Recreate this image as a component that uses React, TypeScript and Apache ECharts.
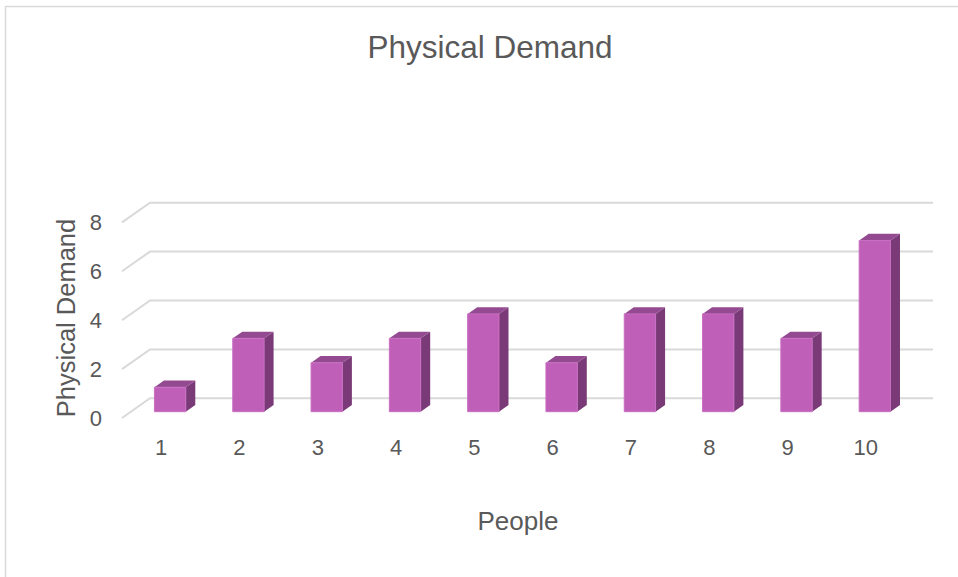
import React, { useEffect, useRef } from "react";
import * as echarts from "echarts";

const categories = ["1", "2", "3", "4", "5", "6", "7", "8", "9", "10"];
const demand = [1, 3, 2, 3, 4, 2, 4, 4, 3, 7];
const yTicks = [0, 2, 4, 6, 8];

const FONT = "'Liberation Sans', Arial, sans-serif";
const TEXT = "#595959";
const WALL_DX = 28;
const WALL_DY = -19.7;
const FRONT_T = 0.32;
const BACK_T = 0.66;

export default function App() {
  const ref = useRef<HTMLDivElement>(null);
  useEffect(() => {
    document.body.style.margin = "0";
    const chart = echarts.init(ref.current!, undefined, { renderer: "svg" });
    chart.setOption({
      animation: false,
      backgroundColor: "#ffffff",
      textStyle: { fontFamily: FONT },
      grid: { left: 122, right: 53, top: 222.4, bottom: 159 },
      xAxis: {
        type: "category",
        data: categories,
        axisLine: { show: false },
        axisTick: { show: false },
        axisLabel: { fontSize: 22, color: TEXT, margin: 18, fontFamily: FONT },
      },
      yAxis: {
        type: "value",
        min: 0,
        max: 8,
        interval: 2,
        splitLine: { show: false },
        axisLine: { show: false },
        axisTick: { show: false },
        axisLabel: { fontSize: 22, color: TEXT, margin: 20, fontFamily: FONT, padding: [6, 0, 0, 0] },
      },
      graphic: [
        {
          type: "rect",
          shape: { x: 5.5, y: 6.5, width: 1000, height: 1000 },
          style: { fill: "none", stroke: "#d9d9d9", lineWidth: 1.5 },
          silent: true,
        },
        {
          type: "text",
          x: 490,
          y: 47,
          style: { text: "Physical Demand", fontSize: 31.5, fill: TEXT, align: "center", verticalAlign: "middle", fontFamily: FONT },
        },
        {
          type: "text",
          x: 66,
          y: 318,
          rotation: Math.PI / 2,
          style: { text: "Physical Demand", fontSize: 25.5, fill: TEXT, align: "center", verticalAlign: "middle", fontFamily: FONT },
        },
        {
          type: "text",
          x: 518,
          y: 521,
          style: { text: "People", fontSize: 26, fill: TEXT, align: "center", verticalAlign: "middle", fontFamily: FONT },
        },
      ],
      series: [
        {
          type: "custom",
          name: "walls",
          z: 1,
          clip: false,
          silent: true,
          data: yTicks.map((v) => [0, v]),
          encode: { x: 0, y: 1 },
          renderItem: (params: any, api: any) => {
            const v = api.value(1);
            const y = api.coord([0, v])[1];
            const cs = params.coordSys;
            const left = cs.x;
            const right = cs.x + cs.width;
            return {
              type: "polyline",
              shape: {
                points: [
                  [left, y],
                  [left + WALL_DX, y + WALL_DY],
                  [right + WALL_DX, y + WALL_DY],
                ],
              },
              style: { stroke: "#d9d9d9", lineWidth: 2, fill: "none" },
            };
          },
        },
        {
          type: "custom",
          name: "Physical Demand",
          z: 2,
          clip: false,
          data: demand.map((v, i) => [i, v]),
          encode: { x: 0, y: 1 },
          renderItem: (params: any, api: any) => {
            const idx = api.value(0);
            const v = api.value(1);
            const p0 = api.coord([idx, 0]);
            const p1 = api.coord([idx, v]);
            const band = api.size([1, 0])[0];
            const w = band * 0.4;
            const fx = FRONT_T * WALL_DX;
            const fy = FRONT_T * WALL_DY;
            const ddx = (BACK_T - FRONT_T) * WALL_DX;
            const ddy = (BACK_T - FRONT_T) * WALL_DY;
            const x0 = p0[0] + fx - w / 2;
            const x1 = x0 + w;
            const yb = p0[1] + fy;
            const yt = p1[1] + fy;
            return {
              type: "group",
              children: [
                {
                  type: "polygon",
                  shape: { points: [[x1, yt], [x1 + ddx, yt + ddy], [x1 + ddx, yb + ddy], [x1, yb]] },
                  style: { fill: "#7a3a77", lineWidth: 0 },
                },
                {
                  type: "polygon",
                  shape: { points: [[x0, yt], [x1, yt], [x1 + ddx, yt + ddy], [x0 + ddx, yt + ddy]] },
                  style: { fill: "#944a90", lineWidth: 0 },
                },
                {
                  type: "rect",
                  shape: { x: x0, y: yt, width: w, height: yb - yt },
                  style: { fill: "#bf5fb8", stroke: "#c96fc2", lineWidth: 1 },
                },
              ],
            };
          },
        },
      ],
    });
    return () => chart.dispose();
  }, []);
  return <div ref={ref} style={{ width: 958, height: 577 }} />;
}
